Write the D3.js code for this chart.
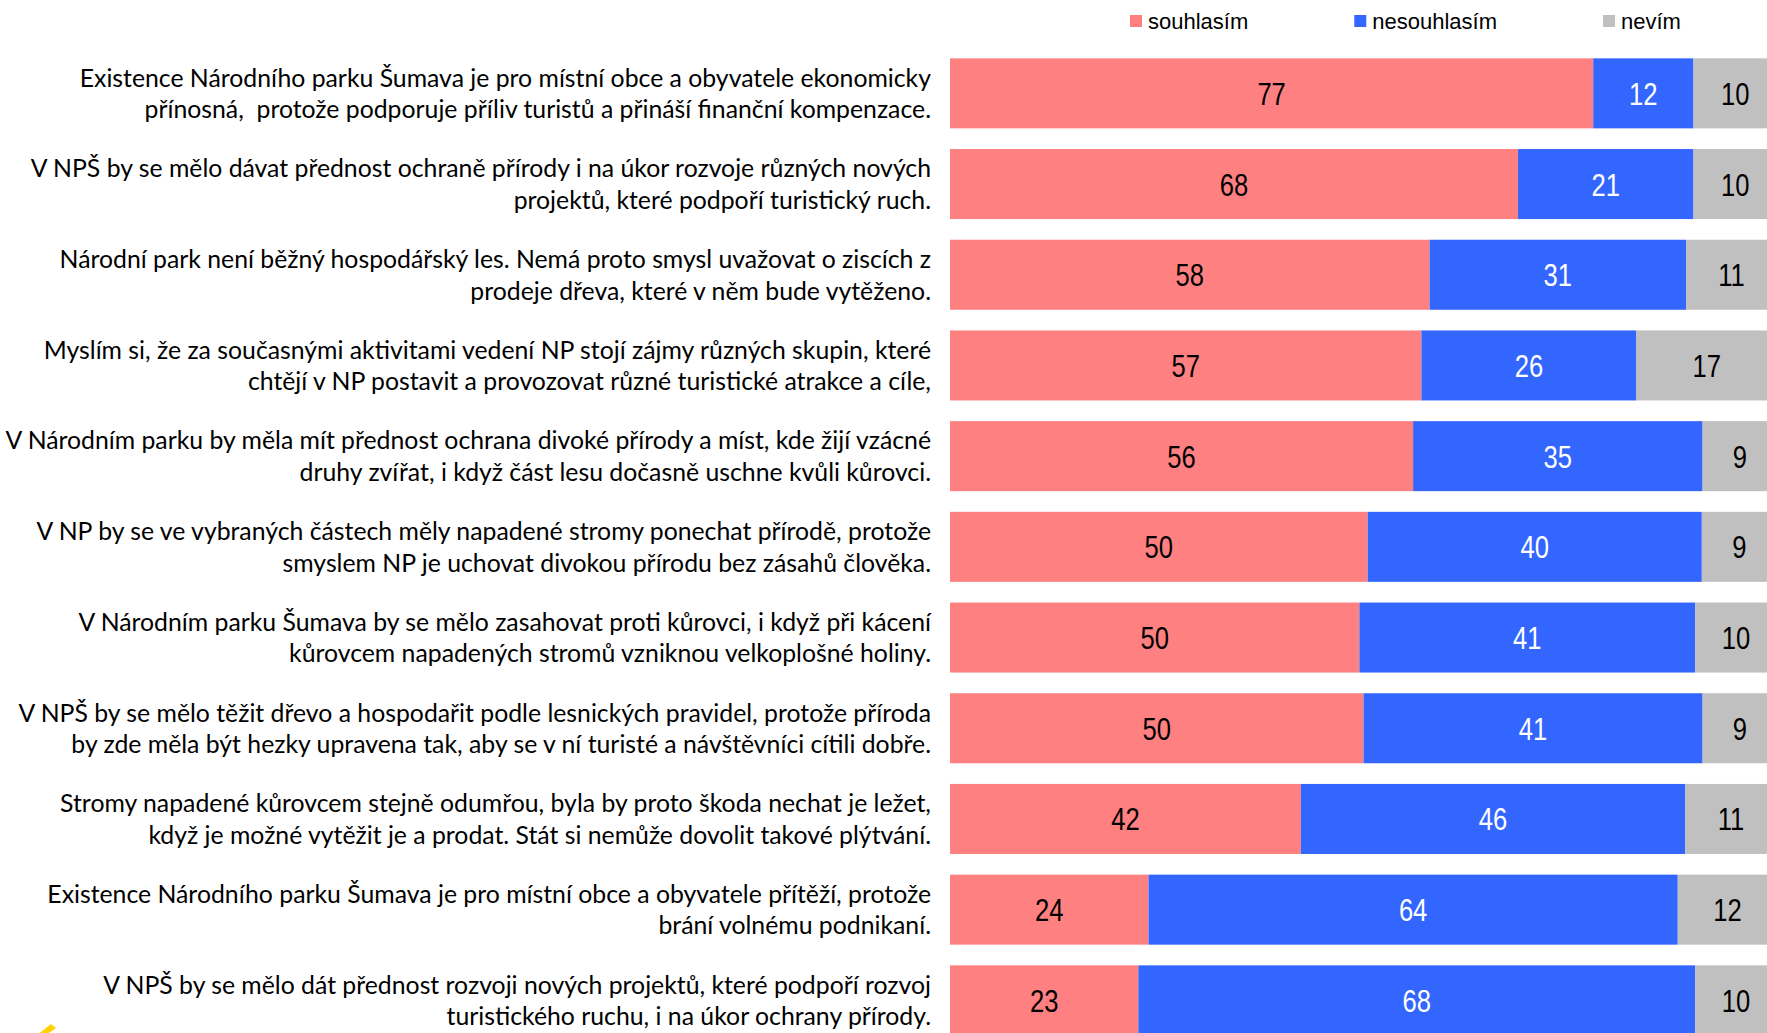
<!DOCTYPE html>
<html>
<head>
<meta charset="utf-8">
<script src="https://cdn.jsdelivr.net/npm/d3@7"></script>
<style>
  body { margin: 0; background: #fff; }
  svg { display: block; }
</style>
</head>
<body>
<svg></svg>
<script>
// chart size
var width = 1767;
var height = 1033;

// statements (two lines each, as wrapped in the original)
var statements = [
    ["Existence Národního parku Šumava je pro místní obce a obyvatele ekonomicky", "přínosná,  protože podporuje příliv turistů a přináší finanční kompenzace."],
    ["V NPŠ by se mělo dávat přednost ochraně přírody i na úkor rozvoje různých nových", "projektů, které podpoří turistický ruch."],
    ["Národní park není běžný hospodářský les. Nemá proto smysl uvažovat o ziscích z", "prodeje dřeva, které v něm bude vytěženo."],
    ["Myslím si, že za současnými aktivitami vedení NP stojí zájmy různých skupin, které", "chtějí v NP postavit a provozovat různé turistické atrakce a cíle,"],
    ["V Národním parku by měla mít přednost ochrana divoké přírody a míst, kde žijí vzácné", "druhy zvířat, i když část lesu dočasně uschne kvůli kůrovci."],
    ["V NP by se ve vybraných částech měly napadené stromy ponechat přírodě, protože", "smyslem NP je uchovat divokou přírodu bez zásahů člověka."],
    ["V Národním parku Šumava by se mělo zasahovat proti kůrovci, i když při kácení", "kůrovcem napadených stromů vzniknou velkoplošné holiny."],
    ["V NPŠ by se mělo těžit dřevo a hospodařit podle lesnických pravidel, protože příroda", "by zde měla být hezky upravena tak, aby se v ní turisté a návštěvníci cítili dobře."],
    ["Stromy napadené kůrovcem stejně odumřou, byla by proto škoda nechat je ležet,", "když je možné vytěžit je a prodat. Stát si nemůže dovolit takové plýtvání."],
    ["Existence Národního parku Šumava je pro místní obce a obyvatele přítěží, protože", "brání volnému podnikaní."],
    ["V NPŠ by se mělo dát přednost rozvoji nových projektů, které podpoří rozvoj", "turistického ruchu, i na úkor ochrany přírody."]
];

// series values (%)
var souhlasim    = [77, 68, 58, 57, 56, 50, 50, 50, 42, 24, 23];
var nesouhlasim  = [12, 21, 31, 26, 35, 40, 41, 41, 46, 64, 68];
var nevim        = [10, 10, 11, 17,  9,  9, 10,  9, 11, 12, 10];

var seriesNames = ["souhlasím", "nesouhlasím", "nevím"];
var seriesColors = ["#FF8080", "#3366FF", "#C0C0C0"];
var labelColors = ["#000", "#fff", "#000"];

var rows = statements.map(function(s, i) {
    return { id: i, souhlasím: souhlasim[i], nesouhlasím: nesouhlasim[i], nevím: nevim[i] };
});

var svg = d3.select("svg")
    .attr("width", width)
    .attr("height", height);

// 100% stacked, x runs past the right edge (picture is cropped there)
var x = d3.scaleLinear()
    .domain([0, 1])
    .range([950, 1777]);

var y = d3.scaleBand()
    .domain(d3.range(rows.length))
    .range([48, 48 + rows.length * 90.7])
    .paddingInner(0.228)
    .paddingOuter(0.114);

var stack = d3.stack()
    .keys(seriesNames)
    .offset(d3.stackOffsetExpand);
var layers = stack(rows);

var layer = svg.selectAll("g.layer")
    .data(layers)
    .enter().append("g")
    .attr("class", "layer")
    .attr("fill", function(d, i) { return seriesColors[i]; });

layer.selectAll("rect")
    .data(function(d) { return d; })
    .enter().append("rect")
    .attr("x", function(d) { return x(d[0]); })
    .attr("y", function(d, i) { return y(i); })
    .attr("width", function(d) { return x(d[1]) - x(d[0]); })
    .attr("height", y.bandwidth());

// value labels, narrow font
layers.forEach(function(l, k) {
    svg.append("g").selectAll("text")
        .data(l)
        .enter().append("text")
        .attr("transform", function(d, i) {
            var cx = (x(d[0]) + x(d[1])) / 2;
            var cy = y(i) + y.bandwidth() / 2 + 11.5;
            return "translate(" + cx + "," + cy + ") scale(0.8,1)";
        })
        .attr("text-anchor", "middle")
        .style("font-family", "'Liberation Sans', Arial, sans-serif")
        .style("font-size", "32px")
        .style("fill", labelColors[k])
        .text(function(d) { return d.data[l.key]; });
});

// statement labels
var labelG = svg.append("g")
    .style("font-family", "Lato, 'Open Sans', sans-serif")
    .style("font-size", "25px")
    .style("fill", "#000");

// measure the longest line to squeeze the font to the original width
var probe = labelG.append("text").text(statements[4][0]);
var sx = 926 / probe.node().getComputedTextLength();
probe.remove();

statements.forEach(function(lines, i) {
    var cy = y(i) + y.bandwidth() / 2;
    lines.forEach(function(line, j) {
        labelG.append("text")
            .attr("transform", "translate(931," + (cy + 9 + (j - 0.5) * 31.5) + ") scale(" + sx + ",1)")
            .attr("text-anchor", "end")
            .attr("xml:space", "preserve")
            .style("white-space", "pre")
            .text(line);
    });
});

// legend
var legend = svg.append("g")
    .style("font-family", "'Liberation Sans', Arial, sans-serif")
    .style("font-size", "22px");

var lx = 1130;
seriesNames.forEach(function(name, i) {
    legend.append("rect")
        .attr("x", lx)
        .attr("y", 15)
        .attr("width", 12)
        .attr("height", 12)
        .attr("fill", seriesColors[i]);
    var t = legend.append("text")
        .attr("x", lx + 18)
        .attr("y", 29)
        .style("fill", "#000")
        .text(name);
    lx += 18 + t.node().getComputedTextLength() + 106;
});

// bit of a logo peeking in at the bottom left
svg.append("path")
    .attr("d", "M36,1036 L51,1024 L56,1028 L42,1038 Z")
    .attr("fill", "#FFD200");
</script>
</body>
</html>
